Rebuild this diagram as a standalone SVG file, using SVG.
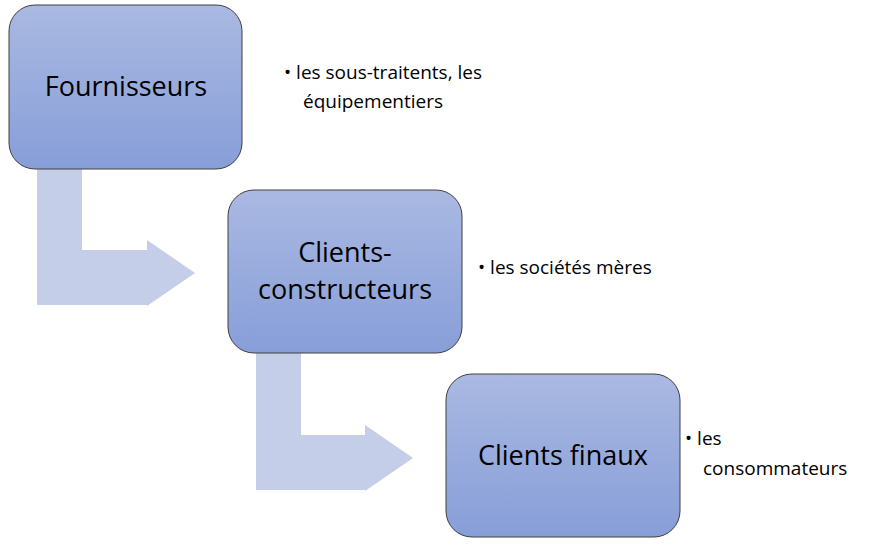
<svg xmlns="http://www.w3.org/2000/svg" width="896" height="546" viewBox="0 0 896 546">
<defs>
<linearGradient id="g" x1="0" y1="0" x2="0" y2="1"><stop offset="0" stop-color="#aab9e2"/><stop offset="1" stop-color="#879ed8"/></linearGradient>
<style>
.box{fill:url(#g);stroke:#404040;stroke-width:1}
.arr{fill:#c5cee8}
.t{font-family:"Open Sans","Liberation Sans",sans-serif;font-size:27px;fill:#000;text-anchor:middle}
.b{font-family:"Open Sans","Liberation Sans",sans-serif;font-size:19px;fill:#000}
</style>
</defs>
<g id="connectors">
<path class="arr" d="M37,169 H82 V250 H147 V240 L195,273 L147,306 V305 H37 Z"/>
<path class="arr" d="M256,353 H301 V435 H365 V425 L413,458 L365,491 V490 H256 Z"/>
</g>
<g id="n1"><rect class="box" x="9" y="5" width="233" height="164" rx="26"/>
<text class="t" x="126" y="96">Fournisseurs</text></g>
<g id="n2"><rect class="box" x="228" y="190" width="234" height="163" rx="26"/>
<text class="t" x="345" y="262">Clients-</text><text class="t" x="345" y="299">constructeurs</text></g>
<g id="n3"><rect class="box" x="446" y="374" width="234" height="163" rx="26"/>
<text class="t" x="563" y="465">Clients finaux</text></g>
<g id="l1"><text class="b" x="284" y="79">• les sous-traitents, les</text><text class="b" x="303" y="108">équipementiers</text></g>
<g id="l2"><text class="b" x="478" y="274">• les sociétés mères</text></g>
<g id="l3"><text class="b" x="685" y="445">• les</text><text class="b" x="703" y="475">consommateurs</text></g>
</svg>
